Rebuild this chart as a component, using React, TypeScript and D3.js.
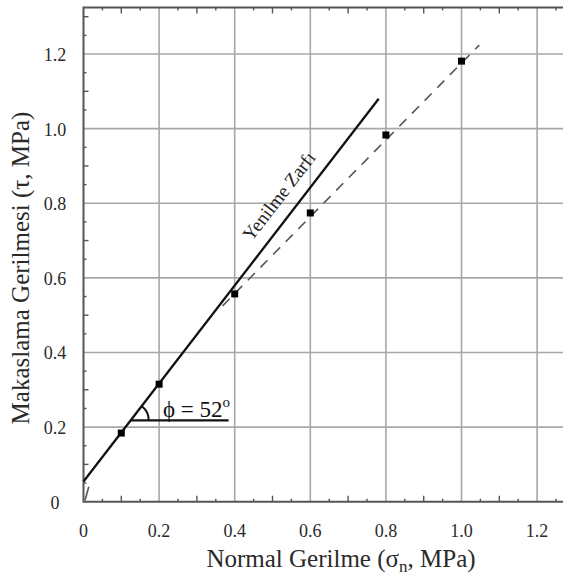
import React from "react";
import * as d3 from "d3";

const tickValues = [0, 0.2, 0.4, 0.6, 0.8, 1.0, 1.2];
const tickLabels = ["0", "0.2", "0.4", "0.6", "0.8", "1.0", "1.2"];
const sigmaN = [0.1, 0.2, 0.4, 0.6, 0.8, 1.0];
const tau = [0.184, 0.315, 0.557, 0.774, 0.983, 1.181];
const envelopeX = [0, 0.781];
const envelopeY = [0.054, 1.08];
const fitX = [0.368, 1.047];
const fitY = [0.525, 1.224];
const originDashX = [0.004, 0.014];
const originDashY = [0.004, 0.04];
const angleLineX = [0.125, 0.384];
const angleLineY = [0.218, 0.218];
const angleDeg = 52;

const W = 563;
const H = 577;

export default function App() {
  const x = d3.scaleLinear().domain([0, 1.3]).range([83.5, 574.9]);
  const y = d3.scaleLinear().domain([0, 1.325]).range([501.7, 7.4]);
  const line = d3
    .line<[number, number]>()
    .x((d) => x(d[0]))
    .y((d) => y(d[1]));
  const pairs = (xs: number[], ys: number[]) =>
    xs.map((v, i) => [v, ys[i]] as [number, number]);

  const notMajor = (v: number) => Math.abs(v / 0.2 - Math.round(v / 0.2)) > 1e-6;
  const minor = d3.range(0.05, 1.3, 0.05).filter(notMajor);
  const minorY = d3.range(0.05, 1.325, 0.05).filter(notMajor);
  const isTenth = (v: number) => Math.abs(v / 0.1 - Math.round(v / 0.1)) < 1e-6;

  const cx = x(angleLineX[0]);
  const cy = y(angleLineY[0]);
  const r = 18;
  const arc = d3.arc()({
    innerRadius: r,
    outerRadius: r,
    startAngle: Math.PI / 2 - (angleDeg * Math.PI) / 180,
    endAngle: Math.PI / 2,
  } as any);

  const p0 = [x(envelopeX[0]), y(envelopeY[0])];
  const p1 = [x(envelopeX[1]), y(envelopeY[1])];
  const ang = (Math.atan2(p1[1] - p0[1], p1[0] - p0[0]) * 180) / Math.PI;

  const grid = "#a8a8a8";
  const frame = "#555";
  const textCol = "#2a2a2a";
  const ts = { fontFamily: "'Liberation Serif', 'Times New Roman', serif" };

  return (
    <svg
      width={W}
      height={H}
      style={{ position: "absolute", left: 0, top: 0, background: "#fff" }}
    >
      {tickValues.slice(1).map((v) => (
        <line key={"gx" + v} x1={x(v)} x2={x(v)} y1={y(0)} y2={y(1.325)} stroke={grid} strokeWidth={1.6} />
      ))}
      {tickValues.slice(1).map((v) => (
        <line key={"gy" + v} x1={x(0)} x2={x(1.3)} y1={y(v)} y2={y(v)} stroke={grid} strokeWidth={1.6} />
      ))}
      {minor.map((v) => (
        <g key={"mx" + v}>
          <line x1={x(v)} x2={x(v)} y1={y(0)} y2={y(0) - (isTenth(v) ? 6 : 3)} stroke={frame} strokeWidth={1.4} />
          <line x1={x(v)} x2={x(v)} y1={y(1.325)} y2={y(1.325) + (isTenth(v) ? 6 : 3)} stroke={frame} strokeWidth={1.4} />
        </g>
      ))}
      {minorY.map((v) => (
        <line key={"my" + v} x1={x(0)} x2={x(0) + (isTenth(v) ? 5 : 3)} y1={y(v)} y2={y(v)} stroke={frame} strokeWidth={1.4} />
      ))}
      <path
        d={`M${x(1.3)},${y(1.325)}H${x(0)}V${y(0)}H${x(1.3)}`}
        fill="none"
        stroke={frame}
        strokeWidth={2}
      />
      {tickValues.map((v, i) => (
        <text key={"tx" + v} x={x(v)} y={537} textAnchor="middle" fontSize={18} fill={textCol} style={ts}>
          {tickLabels[i]}
        </text>
      ))}
      {tickValues.map((v, i) => (
        <text key={"ty" + v} x={55} y={y(v) + 7} textAnchor="middle" fontSize={18} fill={textCol} style={ts}>
          {tickLabels[i]}
        </text>
      ))}
      <text x={341} y={567} textAnchor="middle" fontSize={25} fill={textCol} style={ts}>
        Normal Gerilme (σ
        <tspan fontSize={17} dy={5}>n</tspan>
        <tspan dy={-5}>, MPa)</tspan>
      </text>
      <text
        transform={`translate(29,268) rotate(-90)`}
        textAnchor="middle"
        fontSize={25}
        fill={textCol}
        style={ts}
      >
        Makaslama Gerilmesi (τ, MPa)
      </text>
      <path d={line(pairs(fitX, fitY)) || ""} fill="none" stroke="#555" strokeWidth={1.6} strokeDasharray="10 8" />
      <path d={line(pairs(originDashX, originDashY)) || ""} fill="none" stroke="#555" strokeWidth={1.6} />
      <path d={line(pairs(envelopeX, envelopeY)) || ""} fill="none" stroke="#111" strokeWidth={2.3} />
      <path d={line(pairs(angleLineX, angleLineY)) || ""} fill="none" stroke="#111" strokeWidth={2.3} />
      <path d={arc || ""} transform={`translate(${cx},${cy})`} fill="none" stroke="#111" strokeWidth={2} />
      <text x={163} y={417} fontSize={23} fill="#111" style={ts}>
        ϕ = 52
        <tspan fontSize={15} dy={-10}>o</tspan>
      </text>
      <text
        transform={`translate(284,200) rotate(${ang})`}
        textAnchor="middle"
        fontSize={19}
        fill="#222"
        style={ts}
      >
        Yenilme Zarfı
      </text>
      {sigmaN.map((v, i) => (
        <rect key={"p" + i} x={x(v) - 3.5} y={y(tau[i]) - 3.5} width={7} height={7} fill="#000" />
      ))}
    </svg>
  );
}
